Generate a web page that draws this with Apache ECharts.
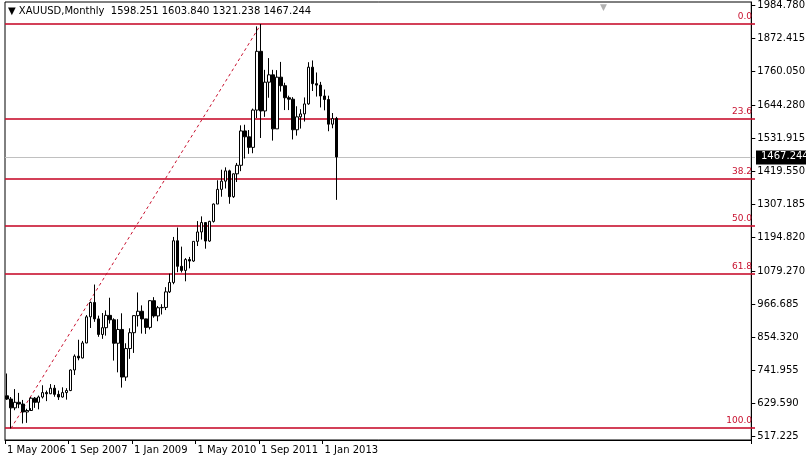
<!DOCTYPE html>
<html><head><meta charset="utf-8">
<script src="https://cdn.jsdelivr.net/npm/echarts@6/dist/echarts.min.js"></script>
<style>html,body{margin:0;padding:0;background:#fff}#c{width:808px;height:459px}</style>
</head><body><div id="c"></div>
<script>
// monthly candles May 2006 .. Apr 2013: [open, close, low, high]
const candles = [
[654,643,640,730],[643,613,543,650],[613,632,605,677],[632,626,612,664],[626,599,560,640],[599,604,562,610],[604,646,612,650],[646,632,613,650],
[632,650,608,655],[650,665,645,690],[665,661,636,672],[661,680,660,694],[680,659,651,691],[659,650,640,672],[650,665,648,683],[665,672,641,680],
[672,742,670,744],[742,789,725,795],[789,783,775,845],[783,834,781,841],
[834,923,833,929],[923,972,885,975],[972,916,906,1033],[916,863,855,927],[863,886,848,936],[886,928,859,945],[928,913,900,988],[913,833,774,918],
[833,880,734,915],[880,718,682,935],[718,815,705,833],[815,869,780,884],
[869,927,800,929],[927,942,890,1006],[942,916,866,962],[916,887,865,914],[887,978,880,980],[978,926,920,990],[926,954,908,960],[954,955,931,966],
[955,1008,946,1024],[1008,1040,1004,1070],[1040,1182,1034,1195],[1182,1095,1075,1227],
[1095,1081,1074,1162],[1081,1118,1044,1123],[1118,1113,1088,1127],[1113,1180,1110,1180],[1180,1212,1164,1249],[1212,1244,1186,1265],[1244,1181,1155,1245],[1181,1248,1178,1250],
[1248,1307,1244,1309],[1307,1357,1307,1388],[1357,1385,1332,1424],[1385,1420,1360,1432],
[1420,1332,1308,1424],[1332,1410,1328,1411],[1410,1439,1382,1447],[1439,1556,1419,1575],[1556,1536,1462,1577],[1536,1500,1478,1559],[1500,1627,1480,1632],[1627,1827,1600,1912],
[1827,1624,1532,1920],[1624,1722,1604,1764],[1722,1747,1669,1804],[1747,1563,1523,1764],
[1563,1739,1563,1763],[1739,1710,1690,1791],[1710,1669,1627,1720],[1669,1664,1627,1676],[1664,1560,1527,1671],[1560,1604,1540,1640],[1604,1614,1564,1630],[1614,1648,1588,1670],
[1648,1773,1645,1790],[1773,1717,1692,1796],[1717,1712,1673,1755],[1712,1675,1636,1723],
[1675,1663,1626,1697],[1663,1579,1555,1676],[1579,1598,1565,1617],[1598.251,1467.244,1321.238,1603.84]
];
const priceTicks = [517.225,629.590,741.955,854.320,966.685,1079.270,1194.820,1307.185,1419.550,1531.915,1644.280,1760.050,1872.415,1984.780];
const fibLevels = [0.0,23.6,38.2,50.0,61.8,100.0];
const fibHigh = 1920, fibLow = 543;
const lastPrice = 1467.244;
const totalSlots = 188;
const monthNames = ['Jan','Feb','Mar','Apr','May','Jun','Jul','Aug','Sep','Oct','Nov','Dec'];
const categories = [];
for (let i = 0; i < totalSlots; i++) { const m = 4 + i; categories.push('1 ' + monthNames[m % 12] + ' ' + (2006 + Math.floor(m / 12))); }

const chart = echarts.init(document.getElementById('c'));
const font = 'DejaVu Sans';
const red = '#c8102e';
chart.setOption({
  animation: false,
  textStyle: { fontFamily: font },
  grid: { left: 5, right: 53, top: 2, bottom: 19, show: true, borderColor: '#000', borderWidth: 1 },
  xAxis: {
    type: 'category', data: categories, boundaryGap: true,
    axisLine: { lineStyle: { color: '#000' } },
    axisTick: { show: true, interval: (i) => i % 16 === 0 && i <= 80, length: 4, lineStyle: { color: '#000' } },
    axisLabel: { interval: (i) => i % 16 === 0 && i <= 80, fontSize: 10, color: '#000', align: 'left', margin: 5, fontFamily: font },
    splitLine: { show: false }
  },
  yAxis: {
    type: 'value', position: 'right', min: 503.6, max: 1995, scale: true,
    axisLine: { show: true, lineStyle: { color: '#000' } },
    axisTick: { show: true, customValues: priceTicks, length: 4, lineStyle: { color: '#000' } },
    axisLabel: { customValues: priceTicks, fontSize: 10, color: '#000', margin: 6, fontFamily: font,
      formatter: v => v.toFixed(3) },
    splitLine: { show: false }
  },
  series: [
    {
      type: 'line', data: [[1, fibLow], [64, fibHigh]], symbol: 'none', z: 2,
      lineStyle: { color: red, width: 1, type: [3, 3] }
    },
    {
      type: 'candlestick', data: candles, barWidth: 3, z: 3,
      itemStyle: { color: '#fff', color0: '#000', borderColor: '#000', borderColor0: '#000', borderWidth: 1 }
    }
  ]
});
const py = v => chart.convertToPixel({ yAxisIndex: 0 }, v);
const yPix = Math.round(py(lastPrice)) + 0.5;
const g = [
  { type: 'line', z: 0, shape: { x1: 5, y1: yPix, x2: 755, y2: yPix }, style: { stroke: '#c0c0c0', lineWidth: 1 } }
];
fibLevels.forEach(l => {
  const y = Math.round(py(fibHigh - l / 100 * (fibHigh - fibLow)));
  g.push({ type: 'line', z: 1, shape: { x1: 5, y1: y, x2: 755, y2: y }, style: { stroke: red, lineWidth: 2, opacity: 0.8 } });
  g.push({ type: 'text', z: 1, x: 752, y: y - 3, style: { text: l.toFixed(1), fontSize: 9, fill: red, fontFamily: font, align: 'right', verticalAlign: 'bottom' } });
});
g.push({ type: 'text', left: 8, top: 6, style: { text: '▼ XAUUSD,Monthly  1598.251 1603.840 1321.238 1467.244', fontSize: 10, fill: '#000', fontFamily: font } });
g.push({ type: 'text', left: 600, top: 3, style: { text: '▼', fontSize: 9, fill: '#b0b0b0', fontFamily: font } });
g.push({ type: 'rect', shape: { x: 756, y: yPix - 7, width: 50, height: 14 }, style: { fill: '#000' } });
g.push({ type: 'text', x: 761, y: yPix - 6, style: { text: lastPrice.toFixed(3), fontSize: 10, fill: '#fff', fontFamily: font } });
chart.setOption({ graphic: g });
</script></body></html>
